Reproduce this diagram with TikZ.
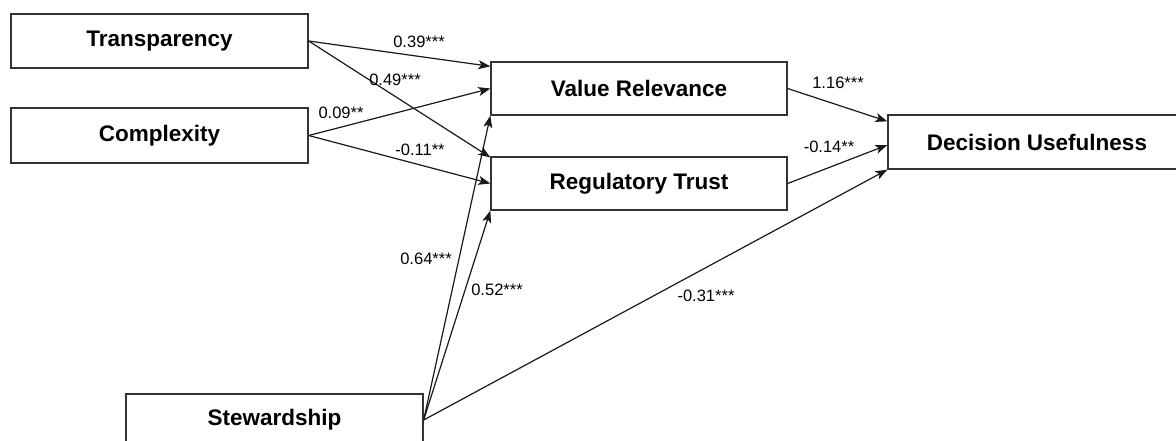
\documentclass[tikz,border=0pt]{standalone}
\usepackage{fontspec}
\setmainfont{Liberation Sans}
\usetikzlibrary{arrows.meta}
\begin{document}
\begin{tikzpicture}[x=1pt,y=-1pt,
  box/.style={draw=black!80,line width=1.3pt,fill=white,rectangle,inner sep=0pt,
    font=\fontsize{22.5}{26}\selectfont\bfseries},
  conn/.style={draw=black!90,line width=1.2pt,-{Stealth[length=12pt,width=9pt,inset=3pt]}},
  lbl/.style={inner sep=0pt,font=\fontsize{16.5}{19}\selectfont}]
\useasboundingbox (0,0) rectangle (1176,440);
\clip (0,0) rectangle (1176,440);
\fill[white] (0,0) rectangle (1176,440);
\node[box,minimum width=297pt,minimum height=54pt] (T) at (159.5,41) {Transparency};
\node[box,minimum width=297pt,minimum height=55pt] (C) at (159.5,135.5) {Complexity};
\node[box,minimum width=296pt,minimum height=53pt] (VR) at (639,88.5) {Value Relevance};
\node[box,minimum width=296pt,minimum height=53pt] (RT) at (639,183.5) {Regulatory Trust};
\node[box,minimum width=298pt,minimum height=54pt] (DU) at (1037,142) {Decision Usefulness};
\node[box,minimum width=297pt,minimum height=52pt] (S) at (274.5,420) {Stewardship};
\draw[conn] (T.east) -- ([yshift=-5pt]VR.north west);
\draw[conn] (T.east) -- ([yshift=-1pt]RT.north west);
\draw[conn] (C.east) -- (VR.west);
\draw[conn] (C.east) -- (RT.west);
\draw[conn] (S.east) -- (VR.south west);
\draw[conn] (S.east) -- (RT.south west);
\draw[conn] (S.east) -- (DU.south west);
\draw[conn] (VR.east) -- ([yshift=-7pt]DU.north west);
\draw[conn] (RT.east) -- ([yshift=-3pt]DU.west);
\node[lbl] (l1) at (419,42) {0.39***};
\node[lbl] (l2) at (395,80) {0.49***};
\node[lbl] (l3) at (341,113) {0.09**};
\node[lbl] (l4) at (420,150) {-0.11**};
\node[lbl] (l5) at (838,83) {1.16***};
\node[lbl] (l6) at (829,147) {-0.14**};
\node[lbl] (l7) at (426,259) {0.64***};
\node[lbl] (l8) at (497,290) {0.52***};
\node[lbl] (l9) at (706,296) {-0.31***};
\end{tikzpicture}
\end{document}
